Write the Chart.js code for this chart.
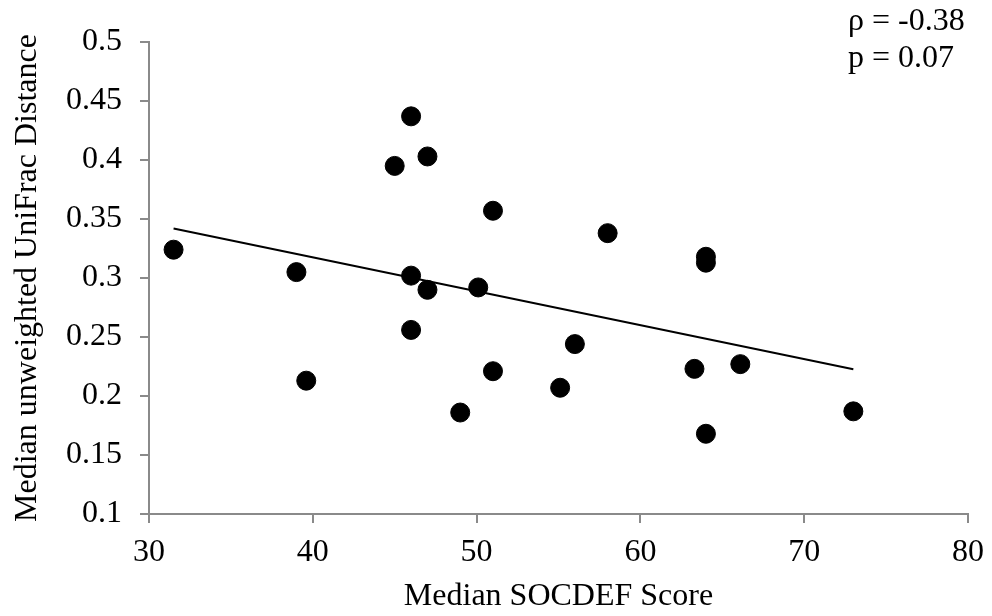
<!DOCTYPE html>
<html>
<head>
<meta charset="utf-8">
<script src="https://cdn.jsdelivr.net/npm/chart.js@4"></script>
<style>
  html, body { margin: 0; padding: 0; background: #fff; }
  #wrap { width: 992px; height: 616px; position: relative; }
</style>
</head>
<body>
<div id="wrap"><canvas id="scatter"></canvas></div>
<script>
// SOCDEF score vs unweighted UniFrac distance (per subject medians)
const socdefScore = [31.5, 39, 39.6, 45, 46, 46, 46, 47, 47, 49, 50.1, 51, 51, 55.1, 56, 58, 64, 64, 64, 63.3, 66.1, 73];
const unifracDist = [0.324, 0.305, 0.213, 0.395, 0.437, 0.302, 0.256, 0.403, 0.290, 0.186, 0.292, 0.357, 0.221, 0.207, 0.244, 0.338, 0.318, 0.313, 0.168, 0.223, 0.227, 0.187];

// linear trend line endpoints
const trendX = [31.5, 73];
const trendY = [0.342, 0.2226];

const xTicks = [30, 40, 50, 60, 70, 80];
const yTicks = [0.1, 0.15, 0.2, 0.25, 0.3, 0.35, 0.4, 0.45, 0.5];

const statsText = ['\u03C1 = -0.38', 'p = 0.07'];

const FONT = "'Liberation Serif', 'Times New Roman', serif";
const FONT_SIZE = 32;
const AXIS_GRAY = '#8a8a8a';

const canvas = document.getElementById('scatter');
canvas.width = 992;
canvas.height = 616;

// draws the correlation text in the top right corner
const statsPlugin = {
  id: 'statsText',
  afterDraw(chart) {
    const ctx = chart.ctx;
    ctx.save();
    ctx.fillStyle = '#000';
    ctx.font = FONT_SIZE + 'px ' + FONT;
    ctx.textBaseline = 'middle';
    ctx.textAlign = 'left';
    ctx.fillText(statsText[0], 848, 22);
    ctx.fillText(statsText[1], 848, 59);
    ctx.restore();
  }
};

new Chart(canvas, {
  type: 'scatter',
  data: {
    datasets: [
      {
        label: 'subjects',
        data: socdefScore.map((x, i) => ({ x: x, y: unifracDist[i] })),
        backgroundColor: '#000',
        borderColor: '#000',
        pointRadius: 9.5,
        pointHoverRadius: 9.5
      },
      {
        label: 'trend',
        type: 'line',
        data: trendX.map((x, i) => ({ x: x, y: trendY[i] })),
        borderColor: '#000',
        borderWidth: 2,
        pointRadius: 0,
        fill: false
      }
    ]
  },
  options: {
    responsive: false,
    animation: false,
    layout: { padding: { top: 42, right: 24, left: 0, bottom: 0 } },
    plugins: {
      legend: { display: false },
      tooltip: { enabled: false }
    },
    scales: {
      x: {
        type: 'linear',
        min: 30,
        max: 80,
        afterBuildTicks(scale) { scale.ticks = xTicks.map(v => ({ value: v })); },
        afterFit(scale) {
          scale.height = 102;
          scale.paddingRight = 0;
        },
        border: { color: AXIS_GRAY, width: 2 },
        grid: { drawOnChartArea: false, drawTicks: true, tickLength: 9, color: AXIS_GRAY, lineWidth: 2 },
        ticks: { color: '#000', font: { family: FONT, size: FONT_SIZE }, padding: 10 },
        title: {
          display: true,
          text: 'Median SOCDEF Score',
          color: '#000',
          font: { family: FONT, size: FONT_SIZE },
          padding: { top: 10, bottom: 0 }
        }
      },
      y: {
        type: 'linear',
        min: 0.1,
        max: 0.5,
        afterBuildTicks(scale) { scale.ticks = yTicks.map(v => ({ value: v })); },
        afterFit(scale) { scale.width = 149; },
        border: { color: AXIS_GRAY, width: 2 },
        grid: { drawOnChartArea: false, drawTicks: true, tickLength: 9, color: AXIS_GRAY, lineWidth: 2 },
        ticks: {
          color: '#000',
          font: { family: FONT, size: FONT_SIZE },
          padding: 18,
          callback: v => String(Math.round(v * 100) / 100)
        },
        title: {
          display: true,
          text: 'Median unweighted UniFrac Distance',
          color: '#000',
          font: { family: FONT, size: FONT_SIZE },
          padding: { top: 8, bottom: 6 }
        }
      }
    }
  },
  plugins: [statsPlugin]
});
</script>
</body>
</html>
